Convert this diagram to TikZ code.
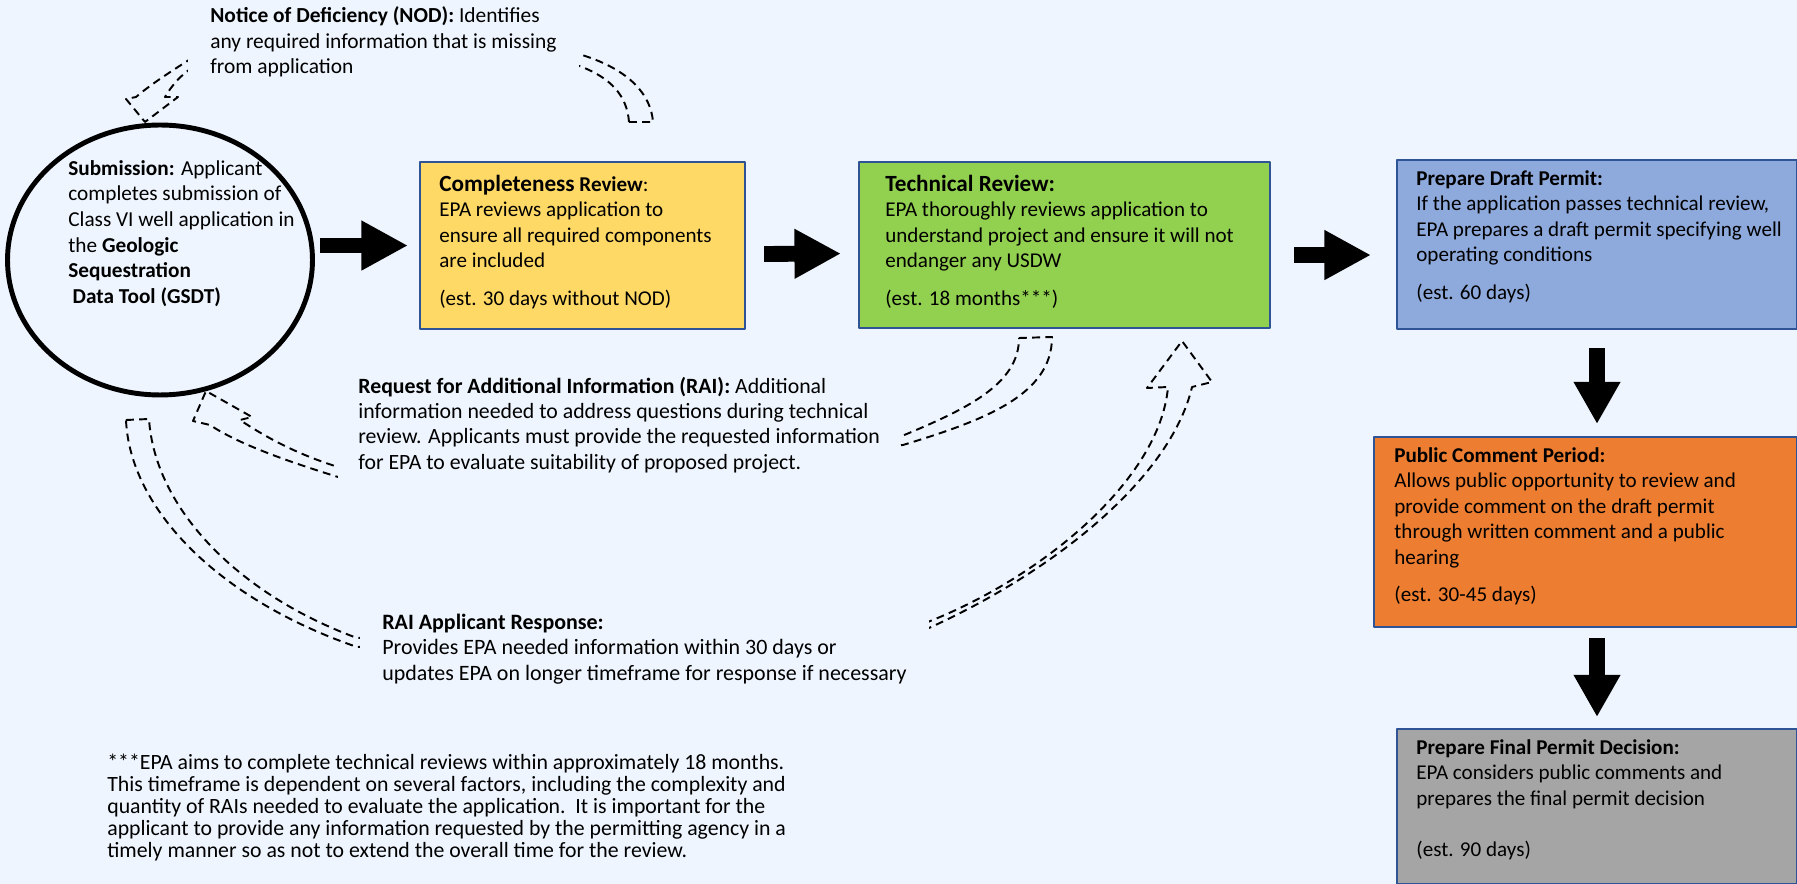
\documentclass[tikz,border=0pt]{standalone}
\usepackage{fontspec}
\setmainfont{Carlito}
\usetikzlibrary{arrows.meta,shapes.geometric}
\definecolor{bgblue}{HTML}{EEF5FE}
\definecolor{boxline}{HTML}{2F5496}
\definecolor{compfill}{HTML}{FFD966}
\definecolor{techfill}{HTML}{92D050}
\definecolor{draftfill}{HTML}{8EA9DB}
\definecolor{pubfill}{HTML}{ED7D31}
\definecolor{finalfill}{HTML}{A5A5A5}
\begin{document}
\begin{tikzpicture}[x=0.02cm,y=-0.02cm,line join=round,
	stagebox/.style={draw=boxline,line width=1.2pt,anchor=north west,inner sep=0pt},
	stagetext/.style={anchor=north west,align=left,inner sep=0pt,font=\fontsize{12}{14.5}\selectfont},
	note/.style={fill=bgblue,anchor=north west,align=left,inner xsep=0.4cm,inner ysep=0.21cm,font=\fontsize{12.4}{14.5}\selectfont},
	bigarrow/.style={line width=9pt,-{Triangle[length=26.5pt,width=26.5pt]}},
	downarrow/.style={line width=9pt,-{Triangle[length=24pt,width=25pt]}},
	dasharrow/.style={dash pattern=on 4.5pt off 3pt,line width=1.1pt}]
	
	\fill[bgblue] (0,0) rectangle (1797,884);
	\useasboundingbox (0,0) rectangle (1797,884);
	
	\draw[dasharrow] (629,122) -- (653,122) .. controls (651,95) and (630,70) .. (582,55)
		.. controls (450,5) and (300,5) .. (192,58) .. controls (170,72) and (150,85) .. (136,97)
		-- (126,99) -- (145,122) -- (178,97) -- (165,97) .. controls (172,85) and (182,74) .. (192,68)
		.. controls (300,20) and (460,20) .. (582,67) .. controls (610,78) and (627,95) .. cycle;
	\draw[dasharrow] (1019,338) -- (1052,337) .. controls (1052,395) and (985,420) .. (903,445)
		-- (338,477) .. controls (290,462) and (240,445) .. (210,425) -- (193,421) -- (206,391)
		-- (252,417) -- (240,420) .. controls (270,440) and (300,455) .. (338,467)
		-- (897,438) .. controls (965,410) and (1019,385) .. cycle;
	\draw[dasharrow] (126,420) -- (149,419) .. controls (155,510) and (240,595) .. (357,638)
		-- (920,625) .. controls (1040,580) and (1160,480) .. (1168,387) -- (1147,388) -- (1182,341)
		-- (1212,382) -- (1192,387) .. controls (1170,480) and (1050,575) .. (920,632)
		-- (357,647) .. controls (220,600) and (130,510) .. cycle;
	
	\node[note,font=\fontsize{12.2}{14.5}\selectfont,inner xsep=0.44cm,inner ysep=0.13cm] (nod) at (188,0)
		{\textbf{Notice of Deficiency (NOD):} Identifies\\ any required information that is missing\\ from application};
	\node[note] (rai) at (338,366)
		{\textbf{Request for Additional Information (RAI):} Additional\\ information needed to address questions during technical\\ review. Applicants must provide the requested information\\ for EPA to evaluate suitability of proposed project.};
	\node[note,font=\fontsize{12.5}{14.5}\selectfont,inner xsep=0.44cm] (resp) at (360,603)
		{\textbf{RAI Applicant Response:}\\ Provides EPA needed information within 30 days or\\ updates EPA on longer timeframe for response if necessary};
	\node[stagetext,font=\fontsize{12.4}{12.5}\selectfont] (foot) at (107,754)
		{***EPA aims to complete technical reviews within approximately 18 months.\\ This timeframe is dependent on several factors, including the complexity and\\ quantity of RAIs needed to evaluate the application.\ \ It is important for the\\ applicant to provide any information requested by the permitting agency in a\\ timely manner so as not to extend the overall time for the review.};
	
	\node[stagetext,font=\fontsize{12.1}{14.6}\selectfont] (subtxt) at (68,160)
		{\textbf{Submission:} Applicant\\ completes submission of\\ Class VI well application in\\ the \textbf{Geologic}\\ \textbf{Sequestration}\\ \hspace*{2.5pt}\textbf{Data Tool (GSDT)}};
	\node[draw,ellipse,line width=2.8pt,minimum width=6.1cm,minimum height=5.4cm,inner sep=0pt] (sub) at (160,260) {};
	
	\node[stagebox,fill=compfill,minimum width=6.5cm,minimum height=3.34cm] (comp) at (419,161) {};
	\node[stagetext] (comptxt) at ([shift={(0.4cm,-0.27cm)}]comp.north west)
		{{\fontsize{13.2}{14.5}\selectfont\bfseries Completeness} \textbf{Review}:\\ EPA reviews application to\\ ensure all required components\\ are included\\[7pt] (est. 30 days without NOD)};
	\node[stagebox,fill=techfill,minimum width=8.22cm,minimum height=3.32cm] (tech) at (858,161) {};
	\node[stagetext] (techtxt) at ([shift={(0.54cm,-0.27cm)}]tech.north west)
		{{\fontsize{13.2}{14.5}\selectfont\bfseries Technical Review:}\\ EPA thoroughly reviews application to\\ understand project and ensure it will not\\ endanger any USDW\\[7pt] (est. 18 months***)};
	\node[stagebox,fill=draftfill,minimum width=8cm,minimum height=3.38cm] (draft) at (1396,159) {};
	\node[stagetext] (drafttxt) at ([shift={(0.4cm,-0.22cm)}]draft.north west)
		{\textbf{Prepare Draft Permit:}\\ If the application passes technical review,\\ EPA prepares a draft permit specifying well\\ operating conditions\\[7pt] (est. 60 days)};
	\node[stagebox,fill=pubfill,minimum width=8.46cm,minimum height=3.8cm] (pub) at (1373,436) {};
	\node[stagetext] (pubtxt) at ([shift={(0.42cm,-0.22cm)}]pub.north west)
		{\textbf{Public Comment Period:}\\ Allows public opportunity to review and\\ provide comment on the draft permit\\ through written comment and a public\\ hearing\\[7pt] (est. 30-45 days)};
	\node[stagebox,fill=finalfill,minimum width=8cm,minimum height=3.1cm] (final) at (1396,728) {};
	\node[stagetext] (finaltxt) at ([shift={(0.4cm,-0.22cm)}]final.north west)
		{\textbf{Prepare Final Permit Decision:}\\ EPA considers public comments and\\ prepares the final permit decision\\[14.5pt] (est. 90 days)};
	
	\draw[bigarrow,shorten <=0.1cm,shorten >=0.22cm] (sub.east |- comp.west) -- (comp.west);
	\draw[bigarrow,shorten <=0.36cm,shorten >=0.34cm] ([yshift=-0.17cm]comp.east) -- ([yshift=-0.17cm]tech.west);
	\draw[bigarrow,shorten <=0.46cm,shorten >=0.5cm] ([yshift=-0.2cm]tech.east) -- ([yshift=-0.2cm]tech.east -| draft.west);
	\draw[downarrow,shorten <=0.36cm,shorten >=0.24cm] (draft.south) -- (draft.south |- pub.north);
	\draw[downarrow,shorten <=0.2cm,shorten >=0.22cm] (final.north |- pub.south) -- (final.north);
\end{tikzpicture}
\end{document}
